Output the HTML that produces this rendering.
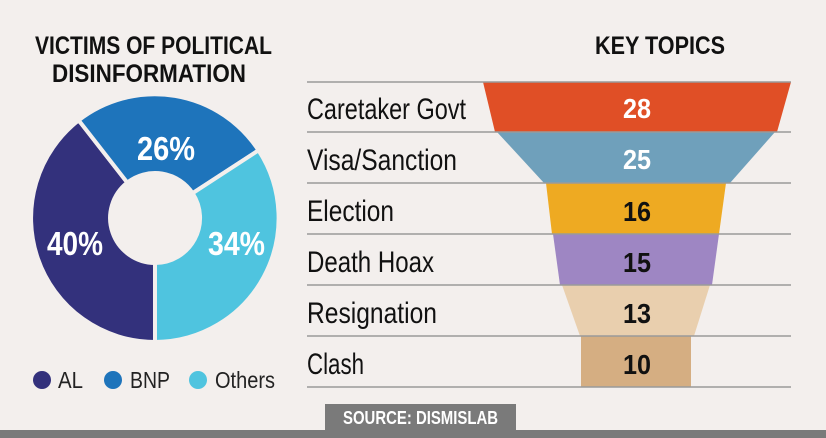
<!DOCTYPE html>
<html><head><meta charset="utf-8"><style>
html,body{margin:0;padding:0;background:#f3efed;}
svg{display:block;font-family:"Liberation Sans",sans-serif;}
</style></head><body>
<svg width="826" height="438" viewBox="0 0 826 438">
<rect width="826" height="438" fill="#f3efed"/>
<g font-weight="bold" font-size="25" fill="#111">
<text x="35" y="54" textLength="237" lengthAdjust="spacingAndGlyphs">VICTIMS OF POLITICAL</text>
<text x="52" y="82" textLength="194" lengthAdjust="spacingAndGlyphs">DISINFORMATION</text>
<text x="595" y="54" textLength="130" lengthAdjust="spacingAndGlyphs">KEY TOPICS</text>
</g>
<g stroke="#f3efed" stroke-width="4">
<path d="M155,342 A124,124 0 0 1 78.7,120.3 L127.3,182.6 A45,45 0 0 0 155,263 Z" fill="#33317c"/>
<path d="M78.7,120.3 A124,124 0 0 1 258.5,150.3 L192.6,193.2 A45,45 0 0 0 127.3,182.6 Z" fill="#1e74bb"/>
<path d="M258.5,150.3 A124,124 0 0 1 155,342 L155,263 A45,45 0 0 0 192.6,193.2 Z" fill="#4fc4df"/>
</g>
<g font-weight="bold" font-size="33" fill="#fff">
<text x="137" y="160" textLength="58" lengthAdjust="spacingAndGlyphs">26%</text>
<text x="47" y="255" textLength="56" lengthAdjust="spacingAndGlyphs">40%</text>
<text x="208" y="255" textLength="57" lengthAdjust="spacingAndGlyphs">34%</text>
</g>
<g font-size="23" fill="#222">
<circle cx="42" cy="380" r="9" fill="#33317c"/><text x="58" y="388" textLength="25" lengthAdjust="spacingAndGlyphs">AL</text>
<circle cx="113" cy="380" r="9" fill="#1e74bb"/><text x="130" y="388" textLength="40" lengthAdjust="spacingAndGlyphs">BNP</text>
<circle cx="198" cy="380" r="9" fill="#4fc4df"/><text x="215" y="388" textLength="60" lengthAdjust="spacingAndGlyphs">Others</text>
</g>
<polygon points="483,82 791,82 777,132 495,132" fill="#e04f26"/>
<polygon points="497,132 775,132 730,183 544,183" fill="#6fa0bb"/>
<polygon points="546,183 726,183 719,234 552,234" fill="#eeaa22"/>
<polygon points="553,234 719,234 712,285 560,285" fill="#9e86c3"/>
<polygon points="562,285 710,285 694,336 580,336" fill="#e9cfae"/>
<rect x="581" y="336" width="110" height="51" fill="#d5ae82"/>
<g stroke="#9a9a9a" stroke-width="1.5">
<line x1="307" y1="82" x2="791" y2="82"/>
<line x1="307" y1="132" x2="791" y2="132"/>
<line x1="307" y1="183" x2="791" y2="183"/>
<line x1="307" y1="234" x2="791" y2="234"/>
<line x1="307" y1="285" x2="791" y2="285"/>
<line x1="307" y1="336" x2="791" y2="336"/>
<line x1="307" y1="387" x2="791" y2="387"/>
</g>
<g font-size="30" fill="#111">
<text x="307" y="119" textLength="159" lengthAdjust="spacingAndGlyphs">Caretaker Govt</text>
<text x="307" y="170" textLength="150" lengthAdjust="spacingAndGlyphs">Visa/Sanction</text>
<text x="307" y="221" textLength="87" lengthAdjust="spacingAndGlyphs">Election</text>
<text x="307" y="272" textLength="127" lengthAdjust="spacingAndGlyphs">Death Hoax</text>
<text x="307" y="323" textLength="130" lengthAdjust="spacingAndGlyphs">Resignation</text>
<text x="307" y="374" textLength="57" lengthAdjust="spacingAndGlyphs">Clash</text>
</g>
<g font-size="28" font-weight="bold">
<text x="623" y="118" fill="#fff" textLength="28" lengthAdjust="spacingAndGlyphs">28</text>
<text x="623" y="169" fill="#fff" textLength="28" lengthAdjust="spacingAndGlyphs">25</text>
<text x="623" y="221" fill="#111" textLength="28" lengthAdjust="spacingAndGlyphs">16</text>
<text x="623" y="272" fill="#111" textLength="28" lengthAdjust="spacingAndGlyphs">15</text>
<text x="623" y="323" fill="#111" textLength="28" lengthAdjust="spacingAndGlyphs">13</text>
<text x="623" y="374" fill="#111" textLength="28" lengthAdjust="spacingAndGlyphs">10</text>
</g>
<rect x="325" y="404" width="191" height="28" fill="#7a7a7a"/>
<text x="343" y="424" font-size="18" font-weight="bold" fill="#fff" textLength="155" lengthAdjust="spacingAndGlyphs">SOURCE: DISMISLAB</text>
<rect x="0" y="430" width="826" height="8" fill="#7a7a7a"/>
</svg>
</body></html>
